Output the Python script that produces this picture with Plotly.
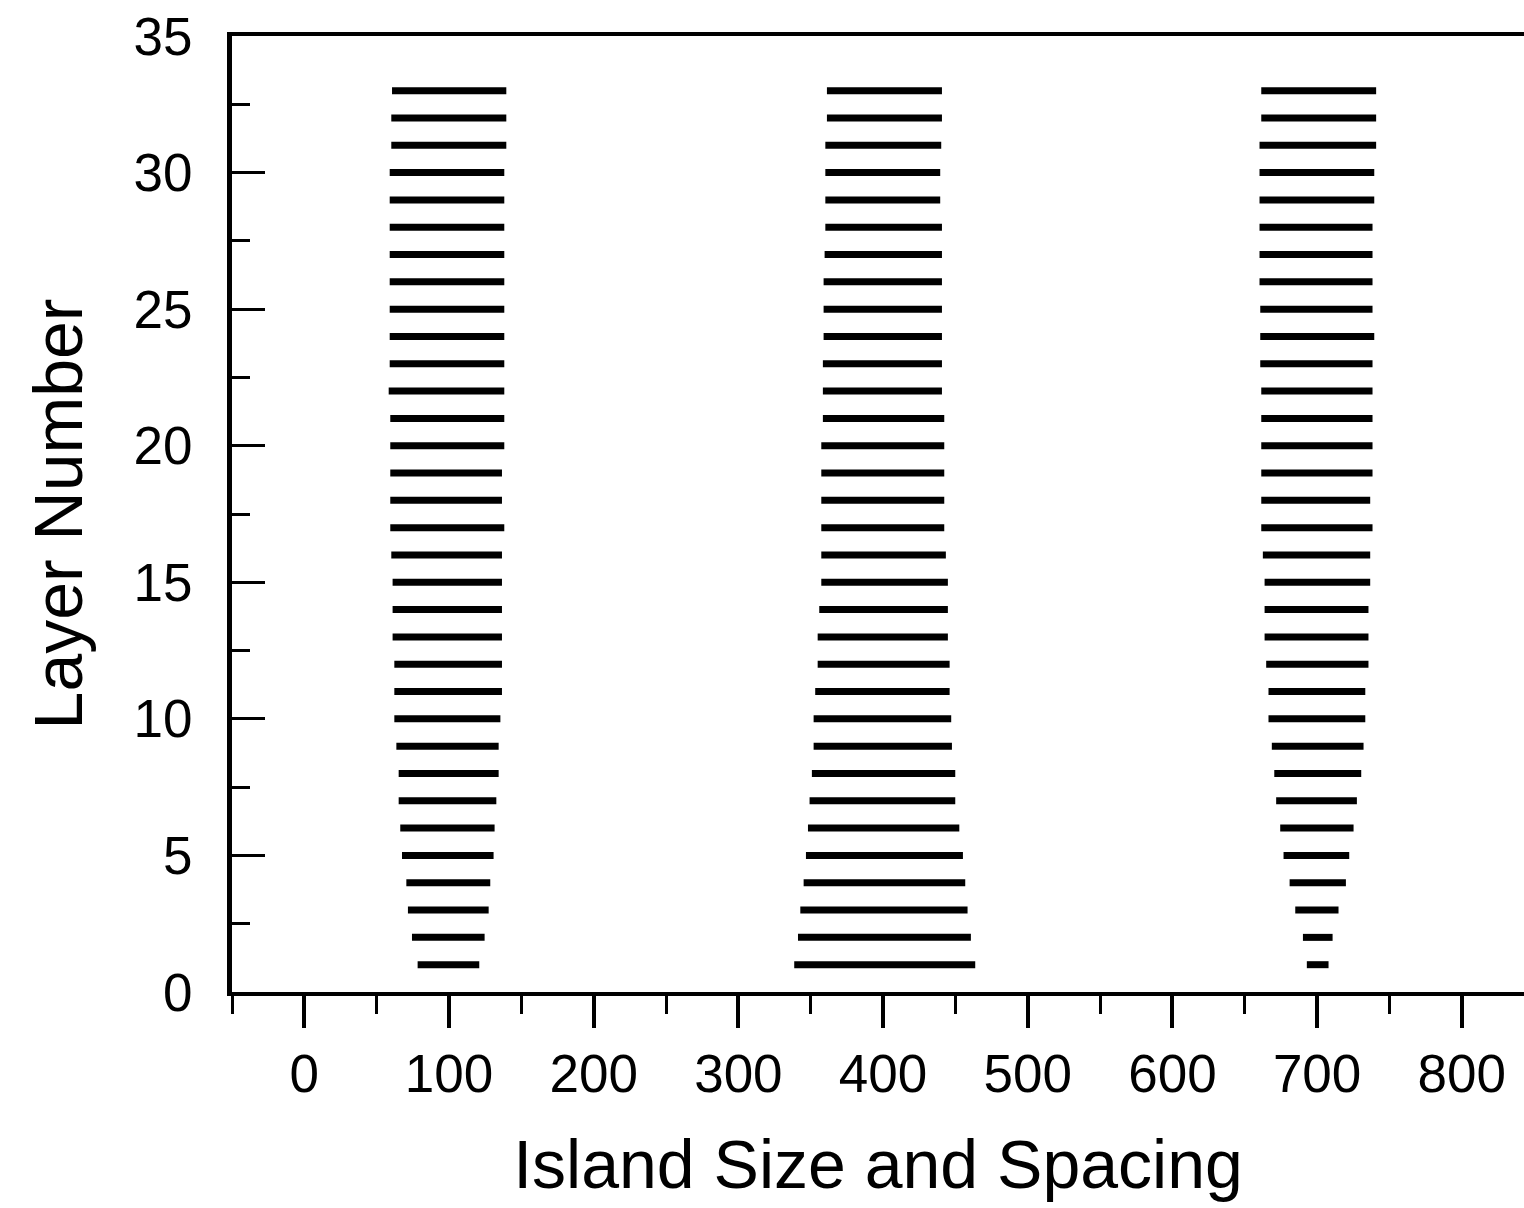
import plotly.graph_objects as go

layers = list(range(1, 34))

# Island 1 (around 100): left and right ends per layer (layer 1..33)
isl1_left = [78.3, 74.4, 71.6, 70.5, 67.5, 66.3, 65.2, 65.2, 63.6, 62.2, 62.2, 62.2, 61.0, 61.0, 61.0,
             60.1, 59.4, 59.4, 59.4, 59.4, 59.4, 58.3, 59.0, 59.0, 59.0, 59.0, 59.0, 59.0, 59.0, 59.0,
             60.1, 60.1, 60.6]
isl1_right = [120.9, 124.6, 127.4, 128.5, 130.8, 131.5, 132.7, 134.3, 134.3, 135.5, 136.6, 136.6, 136.6,
              136.6, 136.6, 136.6, 138.2, 136.6, 136.6, 138.2, 138.2, 138.2, 138.2, 138.2, 138.2, 138.2,
              138.2, 138.2, 138.2, 138.2, 139.6, 139.6, 139.6]

# Island 2 (around 400)
isl2_left = [338.6, 341.2, 342.8, 345.1, 346.7, 348.1, 349.2, 350.8, 352.0, 352.0, 353.1, 354.8, 354.8,
             355.9, 357.3, 357.3, 357.3, 357.3, 357.3, 357.3, 358.4, 358.4, 358.4, 358.9, 358.9, 358.9,
             359.6, 360.1, 360.1, 360.1, 360.1, 361.2, 361.2]
isl2_right = [463.7, 460.7, 458.4, 456.8, 455.2, 452.7, 449.9, 449.9, 447.6, 447.1, 446.0, 446.0, 444.8,
              444.8, 444.8, 443.4, 442.3, 442.3, 442.3, 442.3, 442.3, 440.7, 440.7, 440.7, 440.7, 440.7,
              440.7, 440.7, 439.5, 439.5, 440.2, 440.7, 440.7]

# Island 3 (around 700)
isl3_left = [692.9, 690.2, 684.9, 681.0, 676.8, 674.5, 671.7, 670.4, 668.7, 666.4, 666.4, 664.8, 663.7,
             663.7, 663.7, 662.5, 661.4, 661.4, 661.4, 661.4, 661.4, 661.4, 660.7, 660.7, 660.7, 660.2,
             660.2, 660.2, 660.2, 660.2, 660.2, 661.4, 661.4]
isl3_right = [707.9, 710.7, 714.8, 719.9, 722.2, 725.2, 727.5, 730.5, 732.1, 733.3, 733.3, 735.5, 735.5,
              735.5, 736.7, 736.7, 738.3, 736.7, 738.3, 738.3, 738.3, 738.3, 738.3, 739.5, 738.3, 738.3,
              738.3, 738.3, 739.5, 739.5, 740.8, 740.8, 740.8]

FONT = "Liberation Sans, Arial, sans-serif"

fig = go.Figure()
for lefts, rights in [(isl1_left, isl1_right), (isl2_left, isl2_right), (isl3_left, isl3_right)]:
    xs, ys = [], []
    for ly, a, b in zip(layers, lefts, rights):
        xs += [a, b, None]
        ys += [ly, ly, None]
    fig.add_trace(go.Scatter(x=xs, y=ys, mode="lines", line=dict(color="black", width=7),
                             showlegend=False, hoverinfo="skip"))

fig.update_layout(
    width=1524, height=1208,
    margin=dict(l=232, r=0, t=36, b=216),
    paper_bgcolor="white", plot_bgcolor="white",
    font=dict(family=FONT, color="black"),
    showlegend=False,
)
fig.update_xaxes(
    range=[-50, 843], tick0=0, dtick=100, ticks="outside", ticklen=32, tickwidth=4,
    tickcolor="black", showgrid=False, zeroline=False, showline=True, linecolor="black",
    linewidth=4, mirror=True,
    tickfont=dict(size=53, family=FONT),
    minor=dict(dtick=50, tick0=0, ticks="outside", ticklen=18, tickwidth=3, tickcolor="black"),
    title=dict(text="Island Size and Spacing", font=dict(size=68, family=FONT), standoff=40),
)
fig.update_yaxes(
    range=[0, 35], tick0=0, dtick=5, ticks="inside", ticklen=33, tickwidth=3,
    tickcolor="black", showgrid=False, zeroline=False, showline=True, linecolor="black",
    linewidth=5, ticklabelstandoff=24,
    tickfont=dict(size=53, family=FONT),
    minor=dict(dtick=2.5, tick0=0, ticks="inside", ticklen=18, tickwidth=3, tickcolor="black"),
    title=dict(text="Layer Number", font=dict(size=68, family=FONT), standoff=30),
)

fig.write_html("out.html")
